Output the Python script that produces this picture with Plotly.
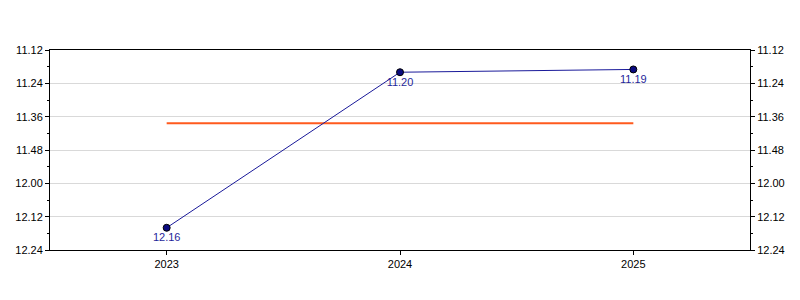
import plotly.graph_objects as go

years = [2023, 2024, 2025]
times = ["12.16", "11.20", "11.19"]
tick_labels = ["11.12", "11.24", "11.36", "11.48", "12.00", "12.12", "12.24"]

def to_sec(s):
    m, sec = s.split(".")
    return int(m) * 60 + int(sec)

secs = [to_sec(t) for t in times]
tick_secs = [to_sec(t) for t in tick_labels]
avg = sum(secs) / len(secs)

fig = go.Figure()
fig.add_trace(go.Scatter(
    x=[years[0], years[-1]], y=[avg, avg], mode="lines",
    line=dict(color="#ff5a1e", width=2), hoverinfo="skip", showlegend=False))
fig.add_trace(go.Scatter(
    x=years, y=secs, mode="lines+markers+text", text=times,
    textposition="bottom center", textfont=dict(color="#1f1f9a", size=11, family="Liberation Sans, Arial"),
    line=dict(color="#1a1a9a", width=1),
    marker=dict(color="#0a0a80", size=7, line=dict(color="#000000", width=1)),
    showlegend=False))
fig.add_trace(go.Scatter(x=years, y=secs, yaxis="y2", mode="markers",
    marker=dict(opacity=0), hoverinfo="skip", showlegend=False))

yrange = [tick_secs[-1], tick_secs[0]]
common_y = dict(range=yrange, tickvals=tick_secs, ticktext=tick_labels,
                ticks="outside", ticklen=4, tickcolor="#000", showline=True,
                linecolor="#000", linewidth=1, zeroline=False,
                tickfont=dict(size=11, color="#000", family="Liberation Sans, Arial"),
                minor=dict(dtick=6, tick0=672, ticks="outside", ticklen=2, tickcolor="#000", showgrid=False))

fig.update_layout(
    width=800, height=300,
    margin=dict(l=50, r=50, t=50, b=50),
    paper_bgcolor="white", plot_bgcolor="white",
    xaxis=dict(range=[2022.5, 2025.5], tickvals=years, ticktext=[str(y) for y in years],
               ticks="outside", ticklen=4, tickcolor="#000", showline=True, linecolor="#000",
               linewidth=1, mirror=True, showgrid=False, zeroline=False,
               tickfont=dict(size=11, color="#000", family="Liberation Sans, Arial")),
    yaxis=dict(**common_y, showgrid=True, gridcolor="#d9d9d9", gridwidth=1),
    yaxis2=dict(**common_y, overlaying="y", side="right", showgrid=False),
)

fig.write_html("out.html")
